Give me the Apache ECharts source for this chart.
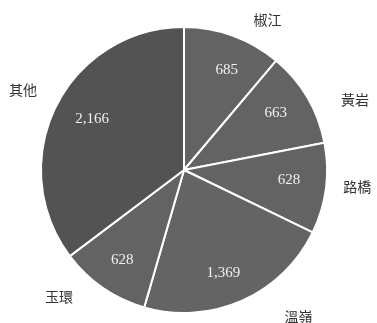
<!DOCTYPE html>
<html>
<head>
<meta charset="utf-8">
<script src="https://cdn.jsdelivr.net/npm/echarts@6/dist/echarts.min.js"></script>
<style>
  html, body { margin: 0; padding: 0; background: #fff; }
  #chart { width: 377px; height: 323px; }
</style>
</head>
<body>
<div id="chart"></div>
<script>
// 各地區數值
const regions = ['椒江', '黃岩', '路橋', '溫嶺', '玉環', '其他'];
const counts = [685, 663, 628, 1369, 628, 2166];

// 扇形顏色
const sliceColors = ['#636363', '#636363', '#636363', '#646464', '#636363', '#545354'];

// 外側地名：相對扇形中線的角度偏移（度）與距圓心半徑（px）
const nameAngleShift = [9, 8, -2, -14, 10, 0];
const nameRadius = [172, 185, 174, 186, 178, 180];

// 扇形內數值：角度偏移與半徑
const valueAngleShift = [3, -1.5, -2, 3, 0, 2.5];
const valueRadius = [109, 108, 105.5, 110, 109, 105];

const center = [184, 170];
const R = 143;

const total = counts.reduce((a, b) => a + b, 0);
const midAngles = [];
let acc = 0;
counts.forEach(v => {
  midAngles.push((acc + v / 2) / total * 360);
  acc += v;
});

function polarLayout(shifts, radii) {
  return function (params) {
    const i = params.dataIndex;
    const a = (midAngles[i] + shifts[i]) * Math.PI / 180;
    return {
      x: center[0] + radii[i] * Math.sin(a),
      y: center[1] - radii[i] * Math.cos(a),
      align: 'center',
      verticalAlign: 'middle',
      hideOverlap: false
    };
  };
}

const chart = echarts.init(document.getElementById('chart'), null, { renderer: 'canvas' });

chart.setOption({
  animation: false,
  backgroundColor: '#ffffff',
  series: [
    {
      // 扇形與外側地名
      type: 'pie',
      center: center,
      radius: [0, R],
      startAngle: 90,
      clockwise: true,
      silent: true,
      avoidLabelOverlap: false,
      data: regions.map((name, i) => ({
        name: name,
        value: counts[i],
        itemStyle: { color: sliceColors[i] }
      })),
      itemStyle: { borderColor: '#ffffff', borderWidth: 2 },
      label: {
        show: true,
        position: 'outside',
        formatter: '{b}',
        color: '#333333',
        fontSize: 14,
        overflow: 'none',
        fontFamily: '"Noto Sans CJK TC", serif'
      },
      labelLine: { show: false },
      labelLayout: polarLayout(nameAngleShift, nameRadius)
    },
    {
      // 扇形內數值
      type: 'pie',
      center: center,
      radius: [R * 0.5, R],
      startAngle: 90,
      clockwise: true,
      silent: true,
      avoidLabelOverlap: false,
      data: regions.map((name, i) => ({ name: name, value: counts[i] })),
      itemStyle: { color: 'rgba(0,0,0,0)' },
      label: {
        show: true,
        position: 'inside',
        formatter: p => p.value.toLocaleString('en-US'),
        color: '#f0f0f0',
        fontSize: 15,
        fontFamily: '"Liberation Serif", serif'
      },
      labelLine: { show: false },
      labelLayout: polarLayout(valueAngleShift, valueRadius)
    }
  ]
});
</script>
</body>
</html>
